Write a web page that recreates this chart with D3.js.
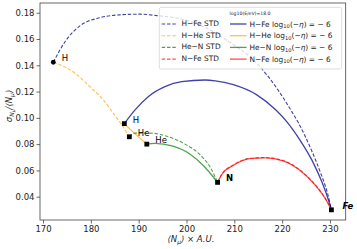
<!DOCTYPE html>
<html lang="en">
<head>
<meta charset="UTF-8">
<title>Muon number fluctuation vs mean</title>
<script src="https://cdn.jsdelivr.net/npm/d3@7"></script>
<style>
  body { margin: 0; background: #fff; }
  svg { display: block; font-family: "DejaVu Sans", sans-serif; }
</style>
</head>
<body>
<svg id="chart"></svg>
<script>
// DATA
const xTicks = [170, 180, 190, 200, 210, 220, 230];
const yTicks = [0.04, 0.06, 0.08, 0.10, 0.12, 0.14, 0.16, 0.18];

// primaries: [<N_mu>, sigma/<N_mu>]
const nodes = [
  {label: "H",  x: 172.15, y: 0.1423},
  {label: "H",  x: 187.0,  y: 0.0956},
  {label: "He", x: 188.05, y: 0.0856},
  {label: "He", x: 191.7,  y: 0.0800},
  {label: "N",  x: 206.5,  y: 0.0509},
  {label: "Fe", x: 230.3,  y: 0.0300}
];

const hFeStd = [[172.15,0.1423],[174.6,0.1579],[177.7,0.1700],[181.9,0.1762],[186.1,0.1784],[190.3,0.1789],
  [193.8,0.1778],[198.6,0.1755],[203.9,0.1688],[208.4,0.1590],[214.7,0.1415],[218.9,0.1225],[221.8,0.1060],
  [223.5,0.0955],[226.0,0.0765],[228.1,0.0575],[229.5,0.0425],[230.3,0.0300]];
const hHeStd = [[172.15,0.1423],[176.3,0.1351],[179.8,0.1237],[182.6,0.1136],[184.7,0.1034],[186.5,0.0945],[188.05,0.0856]];
const heNStd = [[188.05,0.0856],[189.2,0.0884],[192.4,0.0884],[195.9,0.0860],[199.3,0.0808],[202.8,0.0720],[204.9,0.0628],[206.5,0.0509]];
const nFeStd = [[206.5,0.0509],[207.4,0.0572],[209.8,0.0641],[213.3,0.0692],[216.4,0.0698],[220.2,0.0675],[223.7,0.0603],[227.2,0.0478],[229.2,0.0377],[230.3,0.0300]];

const hFeEta = [[187.0,0.0956],[189.2,0.1059],[192.0,0.1161],[195.5,0.1237],[199.0,0.1275],[203.9,0.1288],[206.0,0.1282],
  [209.8,0.1252],[214.7,0.1175],[218.7,0.1060],[221.0,0.0970],[223.7,0.0833],[226.2,0.0680],[228.3,0.0513],[229.5,0.0395],[230.3,0.0300]];
const hHeEta = [[187.0,0.0956],[189.2,0.0880],[191.7,0.0800]];
const heNEta = [[191.7,0.0800],[193.4,0.0806],[197.0,0.0786],[200.7,0.0725],[203.5,0.0637],[205.6,0.0550],[206.5,0.0509]];
const nFeEta = [[206.5,0.0509],[207.4,0.0570],[209.8,0.0639],[213.3,0.0690],[216.4,0.0696],[220.2,0.0673],[223.7,0.0601],[227.2,0.0476],[229.2,0.0375],[230.3,0.0300]];

const stdNames = ["H\u2212Fe STD", "H\u2212He STD", "He\u2212N STD", "N\u2212Fe STD"];
const etaNames = ["H\u2212Fe", "H\u2212He", "He\u2212N", "N\u2212Fe"];
const legendTitle = "log10(E/eV)=18.0";

// LAYOUT
const W = 357, H = 249;
const plot = {left: 40, right: 345.7, top: 3, bottom: 220};
const colors = ["rgba(0,0,139,0.75)", "rgba(255,165,0,0.7)", "rgba(0,128,0,0.7)", "rgba(255,0,0,0.7)"];

const svg = d3.select("#chart").attr("width", W).attr("height", H);

const x = d3.scaleLinear().domain([169.37, 233.29]).range([plot.left, plot.right]);
const y = d3.scaleLinear().domain([0.02227, 0.1874]).range([plot.bottom, plot.top]);

// axes
const xAxis = svg.append("g").attr("transform", `translate(0,${plot.bottom})`)
  .call(d3.axisBottom(x).tickValues(xTicks).tickSize(3.5).tickPadding(2).tickFormat(d3.format("d")));
const yAxis = svg.append("g").attr("transform", `translate(${plot.left},0)`)
  .call(d3.axisLeft(y).tickValues(yTicks).tickSize(3.5).tickPadding(2).tickFormat(d3.format(".2f")));
[xAxis, yAxis].forEach(g => {
  g.select(".domain").remove();
  g.selectAll("line").attr("stroke", "#444").attr("stroke-width", 0.8);
  g.selectAll("text").attr("fill", "#222").style("font-size", "8.5px").style("font-family", "DejaVu Sans");
});

// frame
svg.append("rect")
  .attr("x", plot.left).attr("y", plot.top)
  .attr("width", plot.right - plot.left).attr("height", plot.bottom - plot.top)
  .attr("fill", "none").attr("stroke", "#444").attr("stroke-width", 0.8);

const line = d3.line().x(d => x(d[0])).y(d => y(d[1])).curve(d3.curveMonotoneX);
const plotG = svg.append("g");

const stdSeries = [hFeStd, hHeStd, heNStd, nFeStd];
const etaSeries = [hFeEta, hHeEta, heNEta, nFeEta];

etaSeries.forEach((s, i) => {
  plotG.append("path").attr("d", line(s)).attr("fill", "none")
    .attr("stroke", colors[i]).attr("stroke-width", 1.3);
});
stdSeries.forEach((s, i) => {
  plotG.append("path").attr("d", line(s)).attr("fill", "none")
    .attr("stroke", colors[i]).attr("stroke-width", 1.1).attr("stroke-dasharray", "3.5,1.8");
});

// markers
nodes.forEach((n, i) => {
  if (i === 0) {
    plotG.append("circle").attr("cx", x(n.x)).attr("cy", y(n.y)).attr("r", 2.4).attr("fill", "#000");
  } else {
    plotG.append("rect").attr("x", x(n.x) - 2.4).attr("y", y(n.y) - 2.4)
      .attr("width", 4.8).attr("height", 4.8).attr("fill", "#000");
  }
});

// node labels
nodes.forEach((n, i) => {
  const t = svg.append("text")
    .attr("x", x(n.x) + 8.5).attr("y", y(n.y) - 3.5)
    .attr("dominant-baseline", "middle")
    .style("font-size", "8.5px").attr("fill", "#000").text(n.label);
  if (n.label === "N") t.style("font-weight", "bold");
  if (n.label === "Fe") t.style("font-weight", "bold").style("font-style", "italic").attr("x", x(n.x) + 11);
});

// legend
const lg = svg.append("g");
lg.append("rect").attr("x", 159.3).attr("y", 7.3).attr("width", 182.4).attr("height", 61.7)
  .attr("rx", 2).attr("fill", "rgba(255,255,255,0.8)").attr("stroke", "#d4d4d4").attr("stroke-width", 0.8);
lg.append("text").attr("x", 250).attr("y", 13.6).attr("text-anchor", "middle")
  .attr("dominant-baseline", "middle").style("font-size", "4.6px").attr("fill", "#222").text(legendTitle);

const rowY = i => 24 + i * 11.7;
stdNames.forEach((name, i) => {
  lg.append("line").attr("x1", 161.7).attr("x2", 177).attr("y1", rowY(i)).attr("y2", rowY(i))
    .attr("stroke", colors[i]).attr("stroke-width", 1.1).attr("stroke-dasharray", "3.5,1.8");
  lg.append("text").attr("x", 181.5).attr("y", rowY(i)).attr("dominant-baseline", "middle")
    .style("font-size", "7.4px").attr("fill", "#222").text(name);
});
etaNames.forEach((name, i) => {
  lg.append("line").attr("x1", 230).attr("x2", 246.5).attr("y1", rowY(i)).attr("y2", rowY(i))
    .attr("stroke", colors[i]).attr("stroke-width", 1.3);
  const t = lg.append("text").attr("x", 249.5).attr("y", rowY(i) + 2.6)
    .style("font-size", "7.4px").attr("fill", "#222");
  t.append("tspan").text(name + " log");
  t.append("tspan").attr("dy", 1.6).style("font-size", "5.2px").text("10");
  t.append("tspan").attr("dy", -1.6).text("(\u2212");
  t.append("tspan").style("font-style", "italic").text("\u03b7");
  t.append("tspan").text(") = \u2212 6");
});

// axis labels
const xl = svg.append("text").attr("x", 191).attr("y", 242).attr("text-anchor", "middle")
  .style("font-size", "8.5px").style("font-style", "italic").attr("fill", "#222");
xl.append("tspan").text("\u27e8N");
xl.append("tspan").attr("dy", 1.8).style("font-size", "6px").text("\u03bc");
xl.append("tspan").attr("dy", -1.8).text("\u27e9 \u00d7 A.U.");

const yl = svg.append("text").attr("transform", "translate(12,106) rotate(-90)").attr("text-anchor", "middle")
  .style("font-size", "8.5px").style("font-style", "italic").attr("fill", "#222");
yl.append("tspan").text("\u03c3");
yl.append("tspan").attr("dy", 2).style("font-size", "6px").text("N");
yl.append("tspan").attr("dy", 1.2).style("font-size", "4.5px").text("\u03bc");
yl.append("tspan").attr("dy", -3.2).text("/\u27e8N");
yl.append("tspan").attr("dy", 1.8).style("font-size", "6px").text("\u03bc");
yl.append("tspan").attr("dy", -1.8).text("\u27e9");
</script>
</body>
</html>
